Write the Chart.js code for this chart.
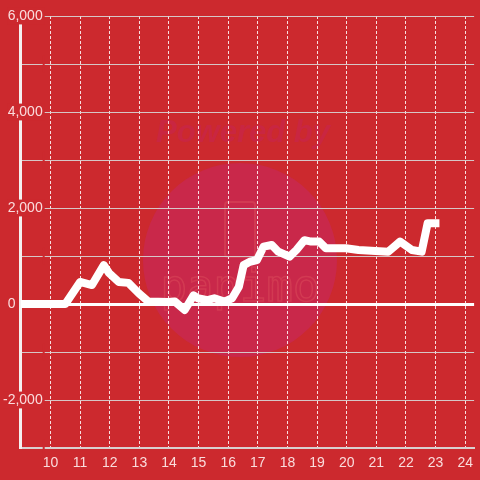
<!DOCTYPE html>
<html>
<head>
<meta charset="utf-8">
<script src="https://cdn.jsdelivr.net/npm/chart.js@4"></script>
<style>
  html, body { margin: 0; padding: 0; background: #cc292e; }
  #wrap { width: 480px; height: 480px; position: relative; }
</style>
</head>
<body>
<div id="wrap"><canvas id="chart" width="480" height="480"></canvas></div>
<script>
// hours of the day and the running value at each point
const hours = [9, 10.5, 11.0, 11.4, 11.8, 11.97, 12.3, 12.63, 12.97, 13.3, 13.97, 14.2, 14.53, 14.83,
  14.97, 15.3, 15.53, 15.87, 16.13, 16.36, 16.52, 16.73, 16.97, 17.19, 17.47, 17.69, 18.07, 18.3,
  18.57, 18.8, 19.07, 19.3, 19.97, 20.4, 21.4, 21.8, 22.2, 22.53, 22.73, 23.13];
const values = [0, 0, 460, 395, 810, 650, 460, 440, 230, 50, 40, 50, -125, 180,
  120, 80, 120, 50, 120, 360, 810, 880, 915, 1195, 1230, 1090, 985, 1125,
  1330, 1300, 1300, 1160, 1160, 1125, 1090, 1300, 1125, 1090, 1680, 1680];
const xTicks = [9, 10, 11, 12, 13, 14, 15, 16, 17, 18, 19, 20, 21, 22, 23, 24];
const yTicks = [-3000, -2000, -1000, 0, 1000, 2000, 3000, 4000, 5000, 6000];

const BG = '#cc292e';
const LABEL = 'rgba(255,240,240,0.9)';

// faint "Powered by" watermark behind the grid
const watermark = {
  id: 'watermark',
  beforeDraw(chart) {
    const c = chart.ctx;
    c.save();
    c.fillStyle = BG;
    c.fillRect(0, 0, chart.width, chart.height);
    c.fillStyle = '#c9284a';
    c.beginPath();
    c.arc(240, 260, 97, 0, Math.PI * 2);
    c.fill();
    c.fillStyle = 'rgba(200,38,70,0.8)';
    c.font = 'italic bold 31px "Liberation Sans", Arial, sans-serif';
    c.textAlign = 'center';
    c.textBaseline = 'middle';
    c.fillText('Powered by', 243, 133);
    c.strokeStyle = 'rgba(225,85,95,0.4)';
    c.lineWidth = 2;
    c.beginPath();
    c.roundRect(225, 202, 30, 55, 3);
    c.stroke();
    c.font = '44px "DejaVu Sans Mono", monospace';
    c.lineWidth = 1.5;
    c.strokeText('papimo', 240, 290);
    c.restore();
  }
};

new Chart(document.getElementById('chart'), {
  type: 'line',
  data: {
    datasets: [{
      data: hours.map((h, i) => ({ x: h, y: values[i] })),
      borderColor: '#ffffff',
      borderWidth: 8,
      borderJoinStyle: 'round',
      pointRadius: 0,
      tension: 0,
      fill: false,
    }]
  },
  options: {
    responsive: false,
    animation: false,
    layout: { padding: { top: 16, left: 0, right: 0, bottom: 0 } },
    plugins: { legend: { display: false }, tooltip: { enabled: false } },
    scales: {
      x: {
        type: 'linear',
        min: 8.97,
        max: 24.3,
        afterBuildTicks: s => { s.ticks = xTicks.map(v => ({ value: v })); },
        afterFit: s => { s.height = 32; },
        grid: {
          color: ctx => ctx.tick && ctx.tick.value === 9 ? 'rgba(0,0,0,0)' : 'rgba(255,255,255,0.85)',
          lineWidth: 1,
          drawTicks: false,
        },
        // dash applies to the vertical grid lines
        border: { display: true, color: '#d8d0d0', width: 2, dash: [3, 2] },
        ticks: {
          color: LABEL,
          font: { size: 14, family: '"Liberation Sans", Arial, sans-serif' },
          padding: 7,
          maxRotation: 0,
          callback: v => v === 9 ? '' : String(v),
        },
      },
      y: {
        type: 'linear',
        min: -3000,
        max: 6000,
        afterBuildTicks: s => { s.ticks = yTicks.map(v => ({ value: v })); },
        afterFit: s => { s.width = 20; },
        grid: {
          color: ctx => ctx.tick && ctx.tick.value === 0 ? '#ffffff' : 'rgba(215,215,215,0.9)',
          lineWidth: ctx => ctx.tick && ctx.tick.value === 0 ? 3 : 1,
          drawTicks: false,
        },
        border: { display: true, color: '#f4f0f0', width: 3 },
        ticks: {
          color: LABEL,
          font: { size: 14, family: '"Liberation Sans", Arial, sans-serif' },
          mirror: true,
          crossAlign: 'far',
          padding: -17,
          showLabelBackdrop: ctx => ctx.tick && ctx.tick.value !== 0,
          backdropColor: BG,
          backdropPadding: { top: 0, bottom: 0, left: 0, right: 2 },
          callback: v => {
            if (v % 2000 !== 0) return '';
            if (v === 0) return '0       ';
            return v.toLocaleString('en-US');
          },
        },
      },
    },
  },
  plugins: [watermark],
});
</script>
</body>
</html>
